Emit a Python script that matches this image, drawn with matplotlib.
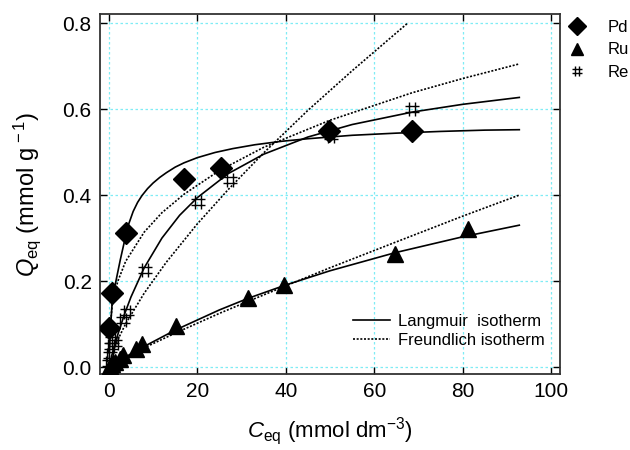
import numpy as np
import matplotlib
matplotlib.use("Agg")
import matplotlib.pyplot as plt
from matplotlib.path import Path
from matplotlib.lines import Line2D

plt.rcParams['font.family'] = ['Liberation Sans', 'DejaVu Sans']
plt.rcParams['mathtext.fontset'] = 'custom'
plt.rcParams['mathtext.rm'] = 'Liberation Sans'
plt.rcParams['mathtext.it'] = 'Liberation Sans:italic'

pd_c = [0.07, 0.75, 3.8, 17.0, 25.3, 49.8, 68.6]
pd_q = [0.091, 0.173, 0.311, 0.437, 0.463, 0.549, 0.549]

ru_c = [0.3, 0.8, 1.5, 2.5, 3.3, 6.1, 7.6, 15.1, 31.5, 39.7, 64.7, 81.1]
ru_q = [0.003, 0.008, 0.012, 0.02, 0.028, 0.043, 0.053, 0.095, 0.161, 0.191, 0.263, 0.322]

re_c = [0.0, 0.2, 0.4, 0.6, 1.4, 3.2, 4.0, 8.1, 20.2, 27.4, 50.2, 68.6]
re_q = [0.01, 0.028, 0.05, 0.063, 0.055, 0.109, 0.129, 0.226, 0.384, 0.435, 0.538, 0.601]

# fitted curves
pd_lang_c = [0.1, 0.3, 0.75, 1.5, 2.6, 3.8, 4.5, 5.5, 6.5, 7.5, 8.75, 10, 11.5, 13, 15, 17,
             20, 24, 28, 33, 39, 45, 55, 65, 75, 85, 92.8]
pd_lang_q = [0.02, 0.08, 0.15, 0.195, 0.25, 0.305, 0.333, 0.362, 0.383, 0.399, 0.415, 0.428,
             0.441, 0.452, 0.465, 0.475, 0.487, 0.499, 0.508, 0.517, 0.525, 0.531, 0.539,
             0.544, 0.548, 0.551, 0.552]
pd_freu_c = [0.07, 0.75, 2, 3.8, 8, 12, 17, 25, 35, 50, 68.6, 80, 92.8]
pd_freu_q = [0.066, 0.144, 0.199, 0.246, 0.314, 0.359, 0.402, 0.457, 0.511, 0.574, 0.638, 0.671, 0.705]

re_lang_c = [0.3, 1, 2, 3.5, 5, 8, 12, 16, 20, 27, 35, 45, 55, 68.6, 80, 92.8]
re_lang_q = [0.012, 0.040, 0.075, 0.122, 0.163, 0.231, 0.300, 0.353, 0.394, 0.450, 0.495,
             0.535, 0.564, 0.593, 0.611, 0.627]
re_freu_c = [0.3, 1, 2, 3.8, 8, 13, 20, 27, 35, 45, 55, 67.7]
re_freu_q = [0.016, 0.0385, 0.063, 0.101, 0.172, 0.244, 0.333, 0.413, 0.498, 0.597, 0.689, 0.801]

ru_lang_c = [0.5, 2, 4, 7.6, 15, 25, 31.5, 40, 50, 64.7, 80, 92.8]
ru_lang_q = [0.003, 0.013, 0.025, 0.046, 0.086, 0.133, 0.160, 0.191, 0.224, 0.266, 0.303, 0.330]
ru_freu_c = [0.5, 2, 4, 7.6, 15, 25, 31.5, 40, 50, 64.7, 80, 92.8]
ru_freu_q = [0.004, 0.013, 0.024, 0.043, 0.079, 0.125, 0.153, 0.189, 0.231, 0.290, 0.351, 0.400]

# hash marker
hash_marker = Path([(-0.45, -1), (-0.45, 1), (0.45, -1), (0.45, 1),
                    (-1, -0.45), (1, -0.45), (-1, 0.45), (1, 0.45)],
                   [Path.MOVETO, Path.LINETO] * 4)

fig = plt.figure(figsize=(6.3, 4.5), dpi=100)
ax = fig.add_axes([100 / 630, 76 / 450, 460 / 630, 360 / 450])

dot = (0, (1.2, 1.0))
for c, q in [(pd_lang_c, pd_lang_q), (re_lang_c, re_lang_q), (ru_lang_c, ru_lang_q)]:
    ax.plot(c, q, color='black', lw=1.2, zorder=3)
for c, q in [(pd_freu_c, pd_freu_q), (re_freu_c, re_freu_q), (ru_freu_c, ru_freu_q)]:
    ax.plot(c, q, color='black', lw=1.2, ls=dot, zorder=3)

ax.plot(pd_c, pd_q, 'D', color='black', ms=11, ls='none', zorder=4)
ax.plot(ru_c, ru_q, '^', color='black', ms=11, ls='none', zorder=4)
ax.plot(re_c, re_q, marker=hash_marker, color='black', ms=10, mew=1.0, ls='none',
        fillstyle='none', zorder=4)

ax.set_xlim(-2, 102)
ax.set_ylim(-0.016, 0.821)
ax.set_xticks([0, 20, 40, 60, 80, 100])
ax.set_yticks([0.0, 0.2, 0.4, 0.6, 0.8])
ax.set_yticklabels(['0.0', '0.2', '0.4', '0.6', '0.8'])
ax.grid(True, color='#7fecf5', ls=(0, (2, 2)), lw=0.9)
ax.tick_params(direction='in', length=5, width=1, top=True, right=True,
               labelsize=15, pad=6)
for s in ax.spines.values():
    s.set_linewidth(1.3)
    s.set_color('#333333')

ax.set_xlabel(r'$C_{\mathrm{eq}}$ (mmol dm$^{-3}$)', fontsize=16, labelpad=10)
ax.set_ylabel(r'$Q_{\mathrm{eq}}$ (mmol g$^{\,-1}$)', fontsize=17, labelpad=14)

iso_handles = [Line2D([], [], color='black', lw=1.2),
               Line2D([], [], color='black', lw=1.2, ls=dot)]
ax.legend(iso_handles, ['Langmuir  isotherm', 'Freundlich isotherm'], loc='lower right',
          bbox_to_anchor=(1.0, 0.03), frameon=False, fontsize=12, handlelength=2.2,
          handletextpad=0.5, labelspacing=0.25)

met_handles = [Line2D([], [], marker='D', color='black', ms=9, ls='none'),
               Line2D([], [], marker='^', color='black', ms=9, ls='none'),
               Line2D([], [], marker=hash_marker, color='black', ms=7, mew=1.0,
                      fillstyle='none', ls='none')]
fig.legend(met_handles, ['Pd', 'Ru', 'Re'], loc='upper left',
           bbox_to_anchor=(569 / 630, 1 - 20 / 450), frameon=False, fontsize=12,
           handlelength=1.0, handletextpad=1.3, labelspacing=0.45, borderaxespad=0,
           borderpad=0)

fig.savefig('out.png', dpi=100)
